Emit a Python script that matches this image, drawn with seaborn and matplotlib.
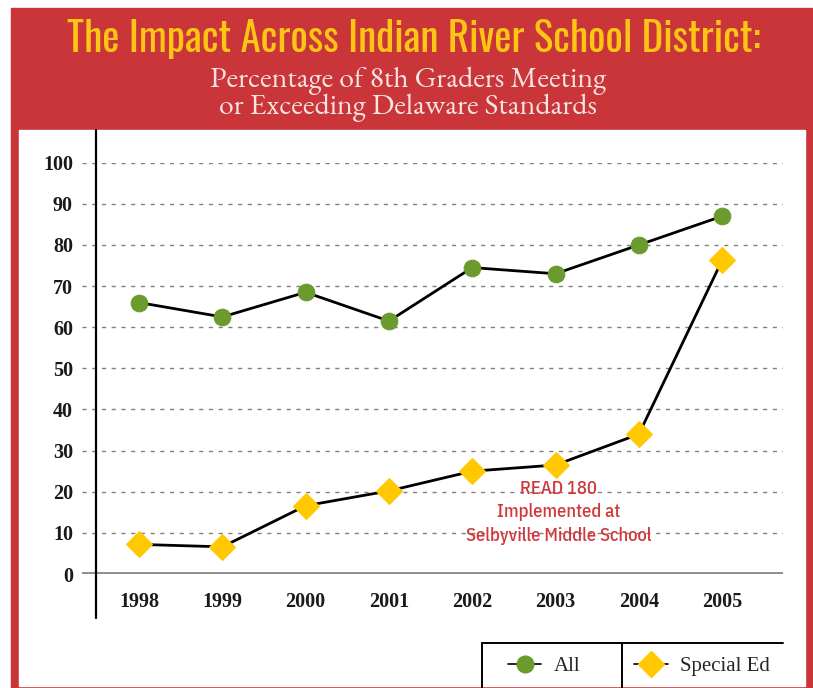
import matplotlib
matplotlib.use('Agg')
import matplotlib.pyplot as plt
from matplotlib.lines import Line2D
from matplotlib.patches import Rectangle
import seaborn as sns

# Data
years = ['1998', '1999', '2000', '2001', '2002', '2003', '2004', '2005']
all_students = [66, 62.5, 68.5, 61.5, 74.5, 73, 80, 87]
special_ed = [7.2, 6.6, 16.6, 20.2, 25, 26.5, 34, 76.3]
y_ticks = [0, 10, 20, 30, 40, 50, 60, 70, 80, 90, 100]

title = 'The Impact Across Indian River School District:'
subtitle = 'Percentage of 8th Graders Meeting\nor Exceeding Delaware Standards'
note = 'READ 180\nImplemented at\nSelbyville Middle School'

RED = '#C93539'
YELLOW = '#FFC515'
GREEN = '#6A9B2C'
GOLD = '#FFC800'
NOTE_RED = '#D0393C'

sns.set_style('white')
plt.rcParams['font.family'] = ['Liberation Serif', 'DejaVu Serif']
TITLE_FONT = ['Oswald', 'Open Sans Condensed', 'DejaVu Sans']
NOTE_FONT = ['IBM Plex Sans Condensed', 'Open Sans Condensed', 'DejaVu Sans']
SUB_FONT = ['EB Garamond', 'Liberation Serif', 'DejaVu Serif']

W, H = 813, 688
fig = plt.figure(figsize=(W / 100, H / 100), dpi=100)
fig.patch.set_facecolor('white')


def px(x, y):
    # pixel coords (top-left origin) -> figure fraction
    return x / W, 1 - y / H


# red frame and white panel (behind the axes)
fig.patches.append(Rectangle(px(11, 688), (W - 11) / W, 680 / H,
                             transform=fig.transFigure, color=RED, zorder=-3))
fig.patches.append(Rectangle(px(19, 686), 786 / W, 556 / H,
                             transform=fig.transFigure, color='white', zorder=-2))

fig.text(*px(414, 39), title, ha='center', va='center', color=YELLOW,
         fontsize=29.5, fontweight='bold', family=TITLE_FONT)
fig.text(*px(408, 94), subtitle, ha='center', va='center', color='#F6E4E2',
         fontsize=21.5, linespacing=0.92, family=SUB_FONT)

ax = fig.add_axes([82 / W, 1 - 574 / H, 701 / W, (574 - 162.7) / H])
ax.set_facecolor('none')
x = list(range(len(years)))

sns.lineplot(x=x, y=all_students, ax=ax, color='black', lw=2, marker='o',
             markersize=12, markerfacecolor=GREEN, markeredgecolor=GREEN,
             label='All', clip_on=False, zorder=4)
sns.lineplot(x=x, y=special_ed, ax=ax, color='black', lw=2, marker='D',
             markersize=13, markerfacecolor=GOLD, markeredgecolor=GOLD,
             label='Special Ed', clip_on=False, zorder=4)

ax.set_xlim(-0.684, 7.73)
ax.set_ylim(0, 100)
ax.set_yticks(y_ticks)
ax.set_yticklabels([str(v) for v in y_ticks], fontweight='bold')
ax.set_xticks(x)
ax.set_xticklabels(years, fontweight='bold')
ax.tick_params(axis='y', length=0, pad=6.5, labelsize=14.5, labelcolor='#1a1a1a')
ax.tick_params(axis='x', length=0, pad=13, labelsize=14.5, labelcolor='#1a1a1a')
ax.set_xlabel('')
ax.set_ylabel('')
for s in ax.spines.values():
    s.set_visible(False)
ax.grid(axis='y', color='#808080', lw=1, ls=(0, (3, 4)))
ax.grid(axis='x', visible=False)
ax.axhline(0, color='#8c8c8c', lw=3.5, zorder=3)

ax.text(5.04, 15.0, note, ha='center', va='center', color=NOTE_RED,
        fontsize=13.3, family=NOTE_FONT, fontweight='medium',
        linespacing=1.38, zorder=5)

# y-axis rule running through the panel
fig.add_artist(Line2D([96 / W, 96 / W], [1 - 130 / H, 1 - 618 / H],
                      transform=fig.transFigure, color='black', lw=1.6))

# legend box lines
for xs, ys in [([482, 783], [643, 643]), ([482, 482], [643, 688]),
               ([622, 622], [643, 688])]:
    fig.add_artist(Line2D([v / W for v in xs], [1 - v / H for v in ys],
                          transform=fig.transFigure, color='black', lw=1.4))

ax.get_legend().remove()
handles = [Line2D([], [], color='black', lw=1.2, marker='o', markersize=12,
                  markerfacecolor=GREEN, markeredgecolor=GREEN),
           Line2D([], [], color='black', lw=1.2, marker='D', markersize=13,
                  markerfacecolor=GOLD, markeredgecolor=GOLD)]
fig.legend(handles, ['All', 'Special Ed'], ncol=2, frameon=False,
           loc='center', bbox_to_anchor=px(639, 666), fontsize=15,
           handlelength=1.6, columnspacing=2.6, handletextpad=0.6)

fig.savefig('out.png', dpi=100)
